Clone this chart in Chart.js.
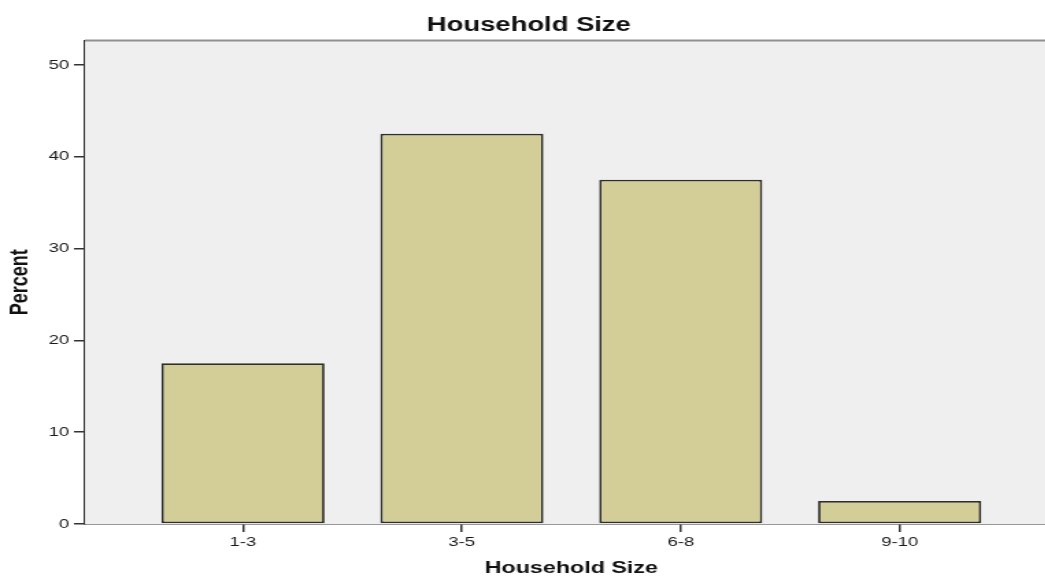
<!DOCTYPE html>
<html>
<head>
<meta charset="utf-8">
<script src="https://cdn.jsdelivr.net/npm/chart.js@4.4.1/dist/chart.umd.min.js"></script>
<style>
  html, body { margin: 0; padding: 0; background: #fff; overflow: hidden; }
  #wrap { width: 1045px; height: 577px; overflow: hidden; }
  #stage { transform: scaleX(1.37); transform-origin: 0 0; width: 772px; height: 577px; }
  canvas { display: block; }
</style>
</head>
<body>
<div id="wrap"><div id="stage"><canvas id="c" width="772" height="577"></canvas></div></div>
<script>
// Household size categories and percentage of households in each
const categories = ['1-3', '3-5', '6-8', '9-10'];
const percent = [17.5, 42.5, 37.5, 2.5];
const yTicks = [0, 10, 20, 30, 40, 50];

const FONT = "'Liberation Sans', Arial, sans-serif";

// Grey plot panel with a thin frame line along the top
const panel = {
  id: 'panel',
  beforeDatasetsDraw(chart) {
    const { ctx, chartArea: a } = chart;
    ctx.save();
    ctx.fillStyle = '#efefef';
    ctx.fillRect(a.left, a.top, a.right - a.left, a.bottom - a.top);
    ctx.restore();
  },
  afterDraw(chart) {
    const { ctx, chartArea: a } = chart;
    ctx.save();
    ctx.strokeStyle = '#8f8f8f';
    ctx.lineWidth = 2;
    ctx.beginPath();
    ctx.moveTo(a.left, a.top);
    ctx.lineTo(a.right, a.top);
    ctx.stroke();
    ctx.restore();
  }
};

new Chart(document.getElementById('c'), {
  type: 'bar',
  data: {
    datasets: [{
      label: 'Percent',
      data: percent.map((v, i) => ({ x: i, y: v })),
      backgroundColor: '#d3ce97',
      borderColor: '#2e2e2a',
      borderWidth: 1.8,
      borderSkipped: false,
      barPercentage: 0.745,
      categoryPercentage: 1
    }]
  },
  options: {
    responsive: false,
    animation: false,
    devicePixelRatio: 1,
    layout: { padding: 0 },
    plugins: {
      legend: { display: false },
      tooltip: { enabled: false },
      title: {
        display: true,
        text: 'Household Size',
        color: '#111',
        font: { family: FONT, size: 20, weight: 'bold', lineHeight: 1.2 },
        padding: { top: 13, bottom: 3.5 }
      }
    },
    scales: {
      x: {
        type: 'linear',
        offset: false,
        min: -0.722,
        max: 3.722,
        afterBuildTicks(scale) { scale.ticks = categories.map((_, i) => ({ value: i })); },
        afterFit(scale) { scale.height = 53; },
        ticks: {
          callback: (v) => categories[v],
          color: '#1a1a1a',
          font: { family: FONT, size: 13.5 },
          padding: 2,
          maxRotation: 0
        },
        grid: { offset: false, drawOnChartArea: false, drawTicks: true, tickLength: 8, color: '#333', lineWidth: 1.5 },
        border: { display: true, color: '#333', width: 1.5 },
        title: {
          display: true,
          text: 'Household Size',
          color: '#111',
          font: { family: FONT, size: 17, weight: 'bold', lineHeight: 1 },
          padding: { top: 0, bottom: 0.5 }
        }
      },
      y: {
        min: 0,
        max: 52.66,
        afterBuildTicks(scale) { scale.ticks = yTicks.map(v => ({ value: v })); },
        afterFit(scale) { scale.width = 62; },
        ticks: {
          color: '#1a1a1a',
          font: { family: FONT, size: 13.5 },
          padding: 3.4
        },
        grid: { drawOnChartArea: false, drawTicks: true, tickLength: 8, color: '#333', lineWidth: 1.5 },
        border: { display: true, color: '#333', width: 1.5 },
        title: {
          display: true,
          text: 'Percent',
          color: '#111',
          font: { family: FONT, size: 18, weight: 'bold', lineHeight: 1 },
          padding: { top: 5.6, bottom: 0 }
        }
      }
    }
  },
  plugins: [panel]
});
</script>
</body>
</html>
